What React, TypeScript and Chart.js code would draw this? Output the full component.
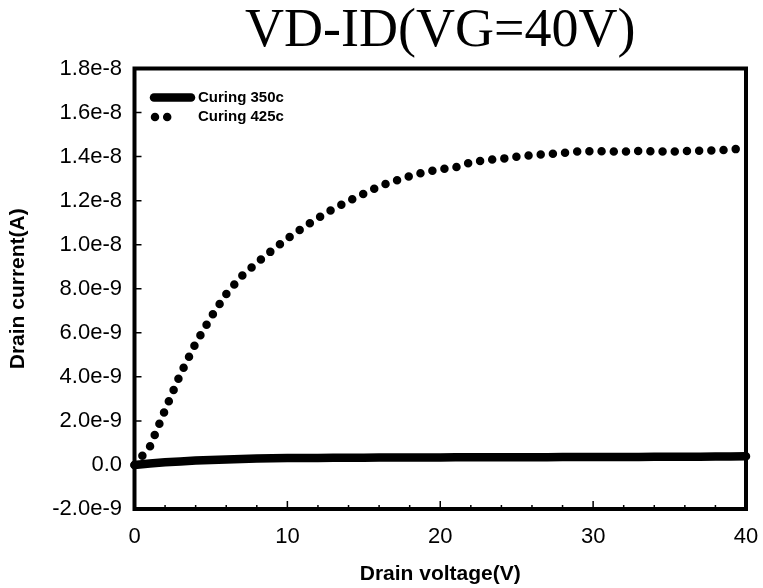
import { useEffect, useRef } from "react";
import { Chart, registerables } from "chart.js";

Chart.register(...registerables);

const titleText = "VD-ID(VG=40V)";
const xAxisTitle = "Drain voltage(V)";
const yAxisTitle = "Drain current(A)";
const seriesLabels = ["Curing 350c", "Curing 425c"];

// Drain voltage (V)
const voltages = [
  0, 1, 2, 3, 4, 5, 6, 7, 8, 9, 10, 11, 12, 13, 14, 15, 16, 17, 18, 19, 20,
  21, 22, 23, 24, 25, 26, 27, 28, 29, 30, 31, 32, 33, 34, 35, 36, 37, 38, 39, 40,
];
// Drain current in nA
const current350nA = [
  0, 0.07, 0.12, 0.16, 0.2, 0.23, 0.25, 0.27, 0.29, 0.3, 0.31, 0.32, 0.32, 0.33,
  0.33, 0.33, 0.34, 0.34, 0.34, 0.34, 0.34, 0.35, 0.35, 0.35, 0.35, 0.35, 0.35,
  0.35, 0.36, 0.36, 0.36, 0.36, 0.36, 0.36, 0.37, 0.37, 0.37, 0.37, 0.38, 0.38, 0.39,
];
const current425nA = [
  0, 0.82, 2.5, 4.12, 5.52, 6.71, 7.76, 8.57, 9.17, 9.74, 10.28, 10.76, 11.21,
  11.63, 11.98, 12.32, 12.65, 12.89, 13.11, 13.3, 13.42, 13.52, 13.73, 13.85,
  13.9, 14.0, 14.07, 14.11, 14.17, 14.23, 14.25, 14.24, 14.23, 14.25, 14.24,
  14.22, 14.25, 14.27, 14.28, 14.32, 14.38,
];
const NANO = 1e-9;

const xTickValues = [0, 10, 20, 30, 40];
const xMinorTickValues = [
  2, 4, 6, 8, 12, 14, 16, 18, 22, 24, 26, 28, 32, 34, 36, 38,
];
const yTickValues = [
  -2e-9, 0, 2e-9, 4e-9, 6e-9, 8e-9, 1e-8, 1.2e-8, 1.4e-8, 1.6e-8, 1.8e-8,
];
const yTickLabels = [
  "-2.0e-9", "0.0", "2.0e-9", "4.0e-9", "6.0e-9", "8.0e-9", "1.0e-8",
  "1.2e-8", "1.4e-8", "1.6e-8", "1.8e-8",
];

const frameAndTicks = {
  id: "frameAndTicks",
  afterDatasetsDraw(chart: any) {
    const { ctx, chartArea: a, scales } = chart;
    ctx.save();
    ctx.strokeStyle = "#000";
    ctx.lineWidth = 1.5;
    ctx.beginPath();
    for (const v of yTickValues) {
      const y = scales.y.getPixelForValue(v);
      ctx.moveTo(a.left, y);
      ctx.lineTo(a.left + 7, y);
    }
    for (const v of xTickValues) {
      const x = scales.x.getPixelForValue(v);
      ctx.moveTo(x, a.bottom);
      ctx.lineTo(x, a.bottom - 8);
    }
    for (const v of xMinorTickValues) {
      const x = scales.x.getPixelForValue(v);
      ctx.moveTo(x, a.bottom);
      ctx.lineTo(x, a.bottom - 4);
    }
    ctx.stroke();
    ctx.setLineDash([]);
    ctx.lineWidth = 4;
    ctx.strokeRect(a.left, a.top, a.right - a.left, a.bottom - a.top);
    ctx.restore();
  },
};

const insideLegend = {
  id: "insideLegend",
  afterDraw(chart: any) {
    const { ctx, chartArea: a } = chart;
    ctx.save();
    chart.data.datasets.forEach((ds: any, i: number) => {
      const y = a.top + 29 + i * 19.5;
      ctx.strokeStyle = ds.borderColor;
      ctx.lineWidth = ds.borderWidth;
      ctx.lineCap = "round";
      ctx.setLineDash(ds.borderDash || []);
      ctx.beginPath();
      if (ds.borderDash && ds.borderDash.length) {
        ctx.moveTo(a.left + 20.5, y);
        ctx.lineTo(a.left + 44, y);
      } else {
        ctx.moveTo(a.left + 19.5, y);
        ctx.lineTo(a.left + 56.5, y);
      }
      ctx.stroke();
      ctx.setLineDash([]);
      ctx.fillStyle = "#000";
      ctx.font = "bold 15px 'Liberation Sans', Arial, sans-serif";
      ctx.textAlign = "left";
      ctx.textBaseline = "middle";
      ctx.fillText(ds.label, a.left + 63.5, y);
    });
    ctx.restore();
  },
};

export default function App() {
  const canvasRef = useRef<HTMLCanvasElement | null>(null);

  useEffect(() => {
    const canvas = canvasRef.current;
    if (!canvas) return;
    const tickFont = { family: "'Liberation Sans', Arial, sans-serif", size: 22 };
    const titleFont = {
      family: "'Liberation Sans', Arial, sans-serif",
      size: 21,
      weight: "bold" as const,
      lineHeight: 1.2,
    };
    const chart = new Chart(canvas, {
      type: "line",
      data: {
        datasets: [
          {
            label: seriesLabels[0],
            data: voltages.map((v, i) => ({ x: v, y: current350nA[i] * NANO })),
            borderColor: "#000",
            borderWidth: 8.5,
            borderCapStyle: "round",
            borderJoinStyle: "round",
            pointRadius: 0,
            fill: false,
            clip: false,
          },
          {
            label: seriesLabels[1],
            data: voltages.map((v, i) => ({ x: v, y: current425nA[i] * NANO })),
            borderColor: "#000",
            borderWidth: 8.5,
            borderCapStyle: "round",
            borderJoinStyle: "round",
            borderDash: [0, 12.2],
            pointRadius: 0,
            fill: false,
            clip: false,
          },
        ],
      },
      options: {
        responsive: false,
        animation: false,
        layout: { padding: { left: 0, right: 17, top: 0, bottom: 0 } },
        plugins: {
          legend: { display: false },
          tooltip: { enabled: false },
          title: {
            display: true,
            text: titleText,
            fullSize: false,
            color: "#000",
            font: {
              family: "'Liberation Serif', 'Times New Roman', serif",
              size: 54,
              weight: "normal",
              lineHeight: 1,
            },
            padding: { top: 5, bottom: 9.5 },
          },
        },
        scales: {
          x: {
            type: "linear",
            min: 0,
            max: 40,
            afterFit: (s: any) => {
              s.height = 79;
              s.paddingLeft = 0;
              s.paddingRight = 0;
            },
            afterBuildTicks: (s: any) => {
              s.ticks = xTickValues.map((v) => ({ value: v }));
            },
            grid: { display: false, drawTicks: false },
            border: { display: false },
            ticks: {
              color: "#000",
              font: tickFont,
              padding: 15,
              maxRotation: 0,
              callback: (v: any) => String(v),
            },
            title: {
              display: true,
              text: xAxisTitle,
              color: "#000",
              font: titleFont,
              padding: { top: 0, bottom: 1.4 },
            },
          },
          y: {
            type: "linear",
            min: -2e-9,
            max: 1.8e-8,
            afterFit: (s: any) => {
              s.width = 134.5;
              s.paddingTop = 0;
              s.paddingBottom = 0;
            },
            afterBuildTicks: (s: any) => {
              s.ticks = yTickValues.map((v) => ({ value: v }));
            },
            grid: { display: false, drawTicks: false },
            border: { display: false },
            ticks: {
              color: "#000",
              font: tickFont,
              padding: 12.5,
              callback: (_v: any, i: number) => yTickLabels[i],
            },
            title: {
              display: true,
              text: yAxisTitle,
              color: "#000",
              font: titleFont,
              padding: { top: 5.4, bottom: 0 },
            },
          },
        },
      },
      plugins: [frameAndTicks, insideLegend],
    });
    return () => chart.destroy();
  }, []);

  return (
    <div style={{ position: "absolute", left: 0, top: 0, width: 763, height: 588, background: "#fff" }}>
      <canvas ref={canvasRef} width={763} height={588} style={{ display: "block" }} />
    </div>
  );
}
